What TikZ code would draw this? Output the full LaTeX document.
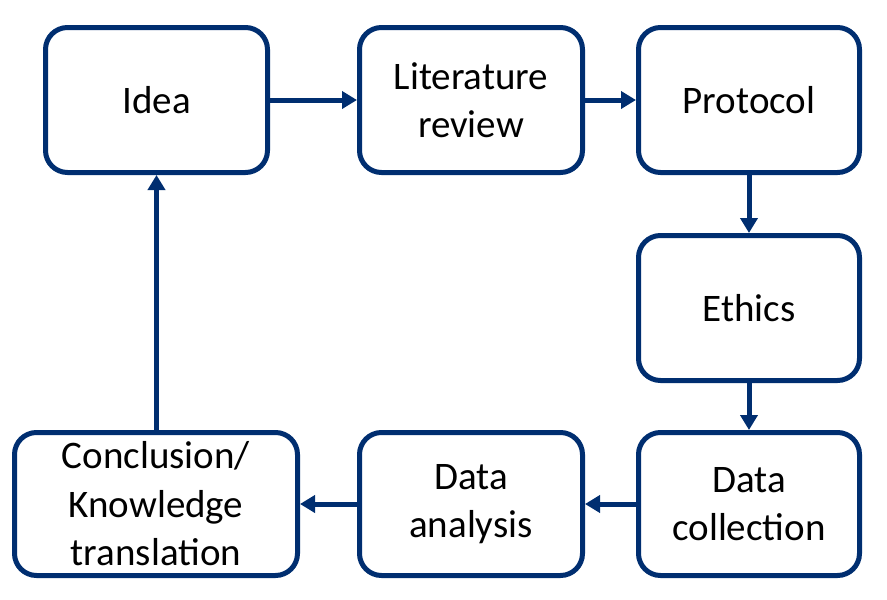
\documentclass[tikz,border=0pt]{standalone}
\usepackage{fontspec}
\setmainfont{Carlito}
\usetikzlibrary{arrows.meta}
\definecolor{navy}{RGB}{0,46,112}
\begin{document}
\begin{tikzpicture}[x=1pt,y=-1pt,
  box/.style={draw=navy, line width=5pt, rounded corners=22pt, fill=white,
    align=center, inner sep=0pt, font=\fontsize{39}{48.5}\selectfont},
  conn/.style={draw=navy, line width=5pt, -{Triangle[length=15pt,width=17pt]}}]
\useasboundingbox (0,0) rectangle (887,600);
\node[box, minimum width=222pt, minimum height=145pt] (idea) at (156.5,100) {Idea};
\node[box, minimum width=223pt, minimum height=145pt] (lit) at (471,100) {Literature\\review};
\node[box, minimum width=221pt, minimum height=145pt] (prot) at (749,100) {Protocol};
\node[box, minimum width=221pt, minimum height=145pt] (eth) at (749,308) {Ethics};
\node[box, minimum width=221pt, minimum height=143pt] (coll) at (749,504) {Data\\collection};
\node[box, minimum width=223pt, minimum height=143pt] (ana) at (471,504) {Data\\analysis};
\node[box, minimum width=283pt, minimum height=143pt] (conc) at (156,504) {Conclusion/\\Knowledge\\translation};
\draw[conn] (idea) -- (lit);
\draw[conn] (lit) -- (prot);
\draw[conn] (prot) -- (eth);
\draw[conn] (eth) -- (coll);
\draw[conn] (coll) -- (ana);
\draw[conn] (ana) -- (conc);
\draw[conn] (conc.north -| idea.south) -- (idea.south);
\end{tikzpicture}
\end{document}
